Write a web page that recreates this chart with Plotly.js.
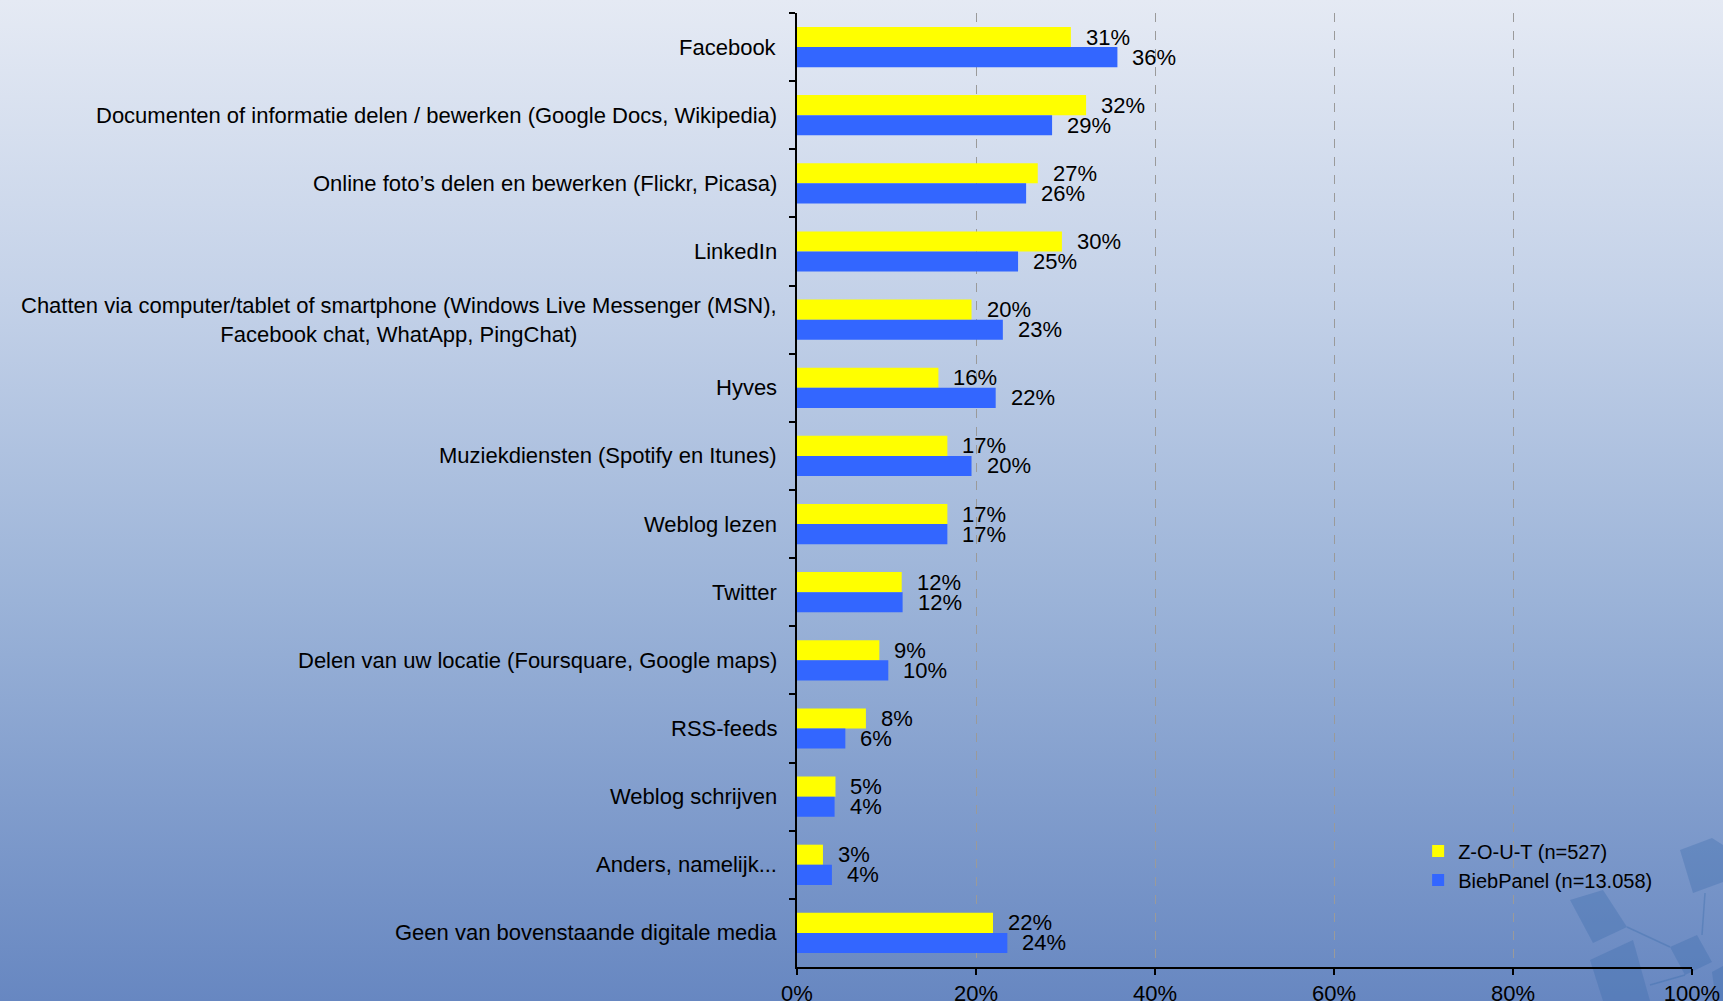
<!DOCTYPE html>
<html>
<head>
<meta charset="utf-8">
<script src="https://cdn.plot.ly/plotly-3.0.1.min.js"></script>
<style>
  html, body { margin: 0; padding: 0; width: 1723px; height: 1001px; overflow: hidden; }
  body { background: linear-gradient(to bottom, #e5eaf4 0%, #c3d1e8 30%, #9bb3d8 60%, #6787c1 100%); position: relative; }
  #deco { position: absolute; left: 0; top: 0; width: 1723px; height: 1001px; }
  #chart { position: absolute; left: 0; top: 0; width: 1723px; height: 1001px; }
</style>
</head>
<body>
<svg id="deco" viewBox="0 0 1723 1001" xmlns="http://www.w3.org/2000/svg">
  <g fill="rgba(55,105,170,0.32)" stroke="none">
    <polygon points="1570,900 1603,890 1627,927 1593,943"/>
    <polygon points="1590,960 1633,940 1650,1001 1603,1001"/>
    <polygon points="1670,947 1697,935 1712,962 1685,975"/>
    <polygon points="1680,850 1712,838 1723,845 1723,882 1693,893"/>
    <polygon points="1712,972 1723,966 1723,1001 1716,1001"/>
  </g>
  <g stroke="rgba(55,105,170,0.35)" stroke-width="1.5" fill="none">
    <line x1="1627" y1="927" x2="1670" y2="947"/>
    <line x1="1705" y1="893" x2="1702" y2="935"/>
    <line x1="1650" y1="985" x2="1685" y2="975"/>
  </g>
</svg>
<div id="chart"></div>
<script>
// ---- data ----
const categories = [
  "Facebook",
  "Documenten of informatie delen / bewerken (Google Docs, Wikipedia)",
  "Online foto\u2019s delen en bewerken (Flickr, Picasa)",
  "LinkedIn",
  "Chatten via computer/tablet of smartphone (Windows Live Messenger (MSN),<br>Facebook chat, WhatApp, PingChat)",
  "Hyves",
  "Muziekdiensten (Spotify en Itunes)",
  "Weblog lezen",
  "Twitter",
  "Delen van uw locatie (Foursquare, Google maps)",
  "RSS-feeds",
  "Weblog schrijven",
  "Anders, namelijk...",
  "Geen van bovenstaande digitale media"
];
const categoryKeys = ["c1","c2","c3","c4","c5","c6","c7","c8","c9","c10","c11","c12","c13","c14"];
const zoutValues = [30.6, 32.3, 26.9, 29.6, 19.5, 15.8, 16.8, 16.8, 11.7, 9.2, 7.7, 4.3, 2.9, 21.9];
const biebValues = [35.8, 28.5, 25.6, 24.7, 23.0, 22.2, 19.5, 16.8, 11.8, 10.2, 5.4, 4.2, 3.9, 23.5];
const zoutLabels = ["31%","32%","27%","30%","20%","16%","17%","17%","12%","9%","8%","5%","3%","22%"];
const biebLabels = ["36%","29%","26%","25%","23%","22%","20%","17%","12%","10%","6%","4%","4%","24%"];
const seriesNames = ["Z-O-U-T (n=527)", "BiebPanel (n=13.058)"];
const xTickVals = [0, 20, 40, 60, 80, 100];
const xTickText = ["0%", "20%", "40%", "60%", "80%", "100%"];

// ---- styles ----
const FONT = '"Liberation Sans", Arial, sans-serif';
const YELLOW = "#FFFF00";
const BLUE = "#3366FF";

const traces = [
  {
    type: "bar", orientation: "h", name: seriesNames[0],
    y: categoryKeys, x: zoutValues,
    marker: { color: YELLOW, line: { width: 0 } },
    legendgroup: "a", hoverinfo: "skip"
  },
  {
    type: "bar", orientation: "h", name: seriesNames[1],
    y: categoryKeys, x: biebValues,
    marker: { color: BLUE, line: { width: 0 } },
    legendgroup: "b", hoverinfo: "skip"
  }
];

const annotations = [];
categoryKeys.forEach((k, i) => {
  annotations.push({
    xref: "paper", yref: "y", x: 0, y: k, xanchor: "right", yanchor: "middle",
    xshift: -18, text: categories[i], showarrow: false, align: "center",
    font: { family: FONT, size: 22, color: "#000" }
  });
  annotations.push({
    xref: "x", yref: "y", x: zoutValues[i], y: k, xanchor: "left", yanchor: "middle",
    xshift: 13, yshift: 10, text: zoutLabels[i], showarrow: false,
    font: { family: FONT, size: 22, color: "#000" }
  });
  annotations.push({
    xref: "x", yref: "y", x: biebValues[i], y: k, xanchor: "left", yanchor: "middle",
    xshift: 13, yshift: -10, text: biebLabels[i], showarrow: false,
    font: { family: FONT, size: 22, color: "#000" }
  });
});

const layout = {
  width: 1723, height: 1001,
  paper_bgcolor: "rgba(0,0,0,0)", plot_bgcolor: "rgba(0,0,0,0)",
  margin: { l: 797, r: 31, t: 13, b: 34, pad: 0 },
  barmode: "group", bargap: 0.41, bargroupgap: 0,
  font: { family: FONT, size: 22, color: "#000" },
  showlegend: true,
  legend: {
    x: 0.694, y: 0.142, xanchor: "left", yanchor: "top",
    bgcolor: "rgba(0,0,0,0)", borderwidth: 0,
    font: { family: FONT, size: 20, color: "#000" },
    traceorder: "normal", tracegroupgap: 12
  },
  xaxis: {
    range: [0, 100], tickvals: xTickVals, ticktext: xTickText,
    showgrid: true, gridcolor: "#9a9a9a", griddash: "dash", gridwidth: 1,
    showline: true, linecolor: "#000", linewidth: 2,
    ticks: "outside", ticklen: 6, tickcolor: "#000", tickwidth: 2,
    tickfont: { family: FONT, size: 22, color: "#000" },
    zeroline: false, fixedrange: true
  },
  yaxis: {
    type: "category", autorange: "reversed",
    showticklabels: false, tickson: "boundaries",
    ticks: "outside", ticklen: 6, tickcolor: "#000", tickwidth: 2,
    showline: true, linecolor: "#000", linewidth: 2,
    showgrid: false, zeroline: false, fixedrange: true
  },
  annotations: annotations
};

Plotly.newPlot("chart", traces, layout, { displayModeBar: false, staticPlot: true });
</script>
</body>
</html>
